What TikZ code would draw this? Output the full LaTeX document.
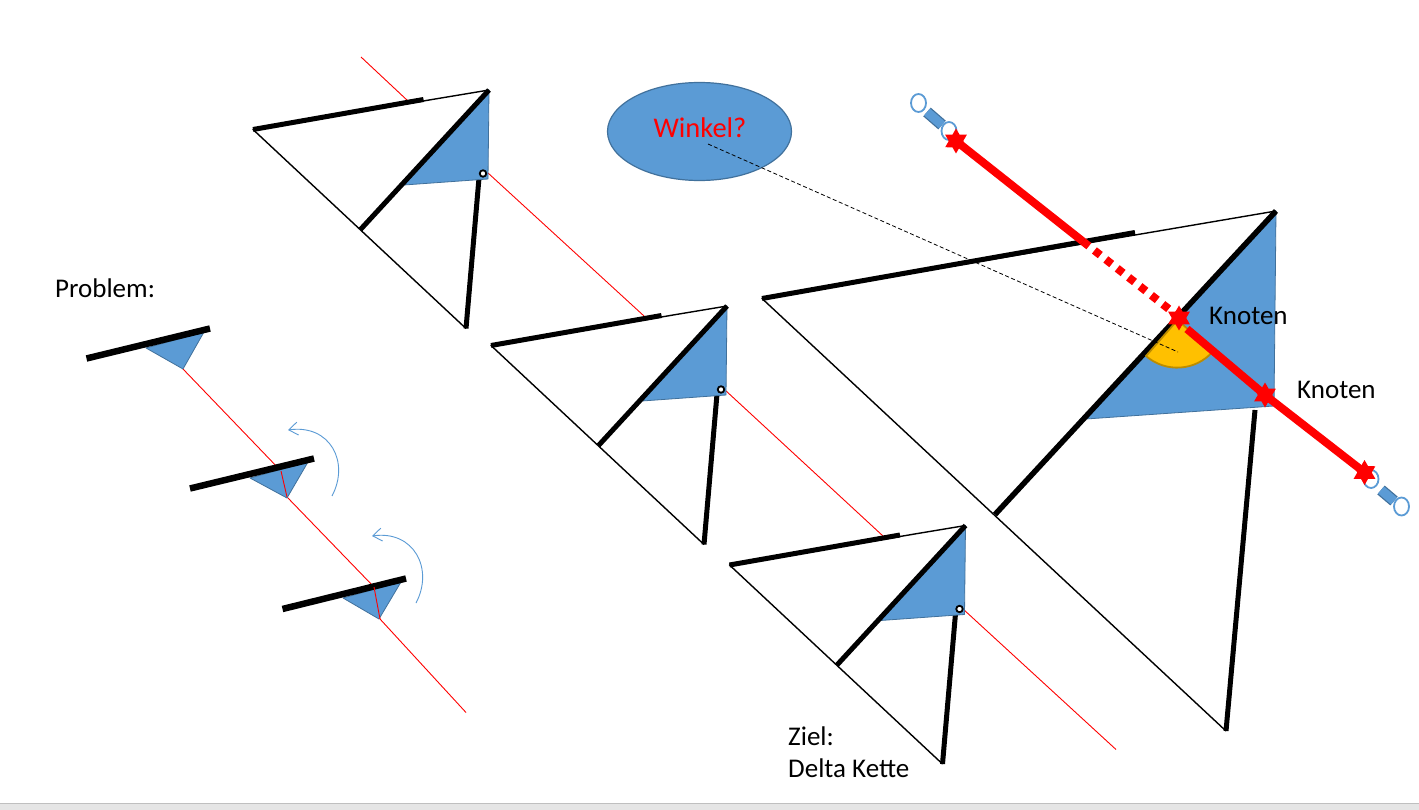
\documentclass[tikz,border=0pt]{standalone}
\usepackage{fontspec}
\setmainfont{Carlito}
\usetikzlibrary{arrows.meta,shapes.geometric}
\definecolor{fillblue}{HTML}{5B9BD5}
\definecolor{edgeblue}{HTML}{41719C}
\definecolor{ringblue}{HTML}{5B9BD5}
\definecolor{wedge}{HTML}{FFC000}
\definecolor{wedgeedge}{HTML}{BC8C00}
\tikzset{
  x=1pt,y=-1pt,
  thinbar/.style={line width=1.4pt,black},
  thickbar/.style={line width=5pt,black},
  heavybar/.style={line width=6.5pt,black},
  redthin/.style={line width=0.9pt,red},
  redfat/.style={line width=8pt,red},
  bluepatch/.style={fill=fillblue,draw=edgeblue,line width=0.8pt,line join=round},
  pivotdot/.style={circle,draw=black,fill=white,line width=1.8pt,minimum size=6.5pt,inner sep=0pt},
  hexstar/.style={star,star points=6,star point ratio=1.73,fill=red,draw=none,minimum size=25pt,inner sep=0pt},
  ring/.style={ellipse,draw=ringblue,fill=white,line width=1.8pt,minimum width=15pt,minimum height=18pt,inner sep=0pt},
  capsule/.style={line width=11.5pt,draw=edgeblue},
  capsulecore/.style={line width=9pt,draw=fillblue},
  label/.style={font=\fontsize{27}{32}\selectfont,inner sep=0pt,anchor=base west},
  swing/.style={draw=ringblue,line width=0.9pt,-{Straight Barb[length=9pt,width=13pt,line width=0.9pt]}},
  pics/deltaunit/.style={code={
    \coordinate (-a) at (253,129.5);
    \coordinate (-e) at (423.5,99.5);
    \coordinate (-t) at (489,90);
    \coordinate (-b) at (466,328.5);
    \coordinate (-m) at (360.5,229.5);
    \coordinate (-l) at (479,178);
    \draw[thinbar,line join=round] (-t) -- (-a) -- (-b);
    \draw[thickbar] (-a) -- (-e);
    \draw[thickbar] (-l) -- (-b);
    \draw[bluepatch] (489,90) -- (488,179) -- (404,185) -- cycle;
    \draw[thickbar] (-m) -- (-t);
    \node[pivotdot] (-p) at (483,173.5) {};
  }},
}
\begin{document}
\begin{tikzpicture}
\useasboundingbox (0,0) rectangle (1419,810);
\fill[white] (0,0) rectangle (1419,810);
\fill[black!10] (0,803) rectangle (1419,810);
\draw[black!25,line width=1pt] (0,803) -- (1419,803);

% red guide lines of the chain
\coordinate (r0) at (361,57);
\coordinate (r1) at (408,101);
\coordinate (r2) at (488,173);
\coordinate (r3) at (644,316);
\coordinate (r4) at (725,390);
\coordinate (r5) at (883,536);
\coordinate (r6) at (963,609);
\coordinate (r7) at (1116,749.5);
\draw[redthin] (r0) -- (r1);
\draw[redthin] (r2) -- (r3);
\draw[redthin] (r4) -- (r5);
\draw[redthin] (r6) -- (r7);

% small deltas
\pic (d1) at (0,0) {deltaunit};
\pic (d2) at (238,216) {deltaunit};
\pic (d3) at (476.5,435.5) {deltaunit};

% large delta
\coordinate (La) at (762,298.5);
\coordinate (Le) at (1135,232.5);
\coordinate (Lt) at (1276,211);
\coordinate (Lb) at (1226,731);
\coordinate (Lm) at (995,514.5);
\coordinate (Ll) at (1255,410);
\draw[thinbar,line join=round] (Lt) -- (La) -- (Lb);
\draw[line width=5pt] (La) -- (Le);
\draw[line width=5pt] (Ll) -- (Lb);
\draw[bluepatch] (1276,211) -- (1274,406) -- (1086,419) -- cycle;
\draw[line width=5.5pt] (Lm) -- (Lt);

% wedge
\coordinate (wc) at (1177.5,320);
\draw[fill=wedge,draw=wedgeedge,line width=1.8pt,line join=round]
  (wc) -- (1146,356) arc[start angle=131,end angle=41,radius=47.5] -- cycle;

% ellipse and dashed leader
\node[ellipse,fill=fillblue,draw=edgeblue,line width=1.2pt,minimum width=184pt,minimum height=98pt,inner sep=0pt] (winkel) at (699.5,131.5) {};
\node[font=\fontsize{28.5}{32}\selectfont,text=red,inner sep=0pt,anchor=base] (winkeltext) at (700,138) {Winkel?};
\coordinate (ds) at (708,144);
\coordinate (de) at (1178,352);
\draw[line width=0.8pt,dash pattern=on 4pt off 2.5pt] (ds) -- (de);

% connector ends
\coordinate (c1a) at (927,112);
\coordinate (c1b) at (942,125);
\draw[capsule] (c1a) -- (c1b);
\draw[capsulecore] (c1a) -- (c1b);
\node[ring] (r1a) at (918.5,103) {};
\node[ring] (r1b) at (949,131) {};
\coordinate (c2a) at (1381,490);
\coordinate (c2b) at (1394,501);
\draw[capsule] (c2a) -- (c2b);
\draw[capsulecore] (c2a) -- (c2b);
\node[ring] (r2a) at (1371,479) {};
\node[ring] (r2b) at (1401.5,506.5) {};

% red chain
\coordinate (jm) at (1083,241.5);
\coordinate (jn) at (1187,329);
\draw[redfat] (956,141) -- (jm);
\draw[red,line width=8pt,dash pattern=on 7.5pt off 7pt] (jm) -- (1179,317);
\draw[redfat] (jn) -- (1265,395) -- (1364,472);
\node[hexstar] (s1) at (956,141) {};
\node[hexstar] (s2) at (1179,318) {};
\node[hexstar] (s3) at (1265,395) {};
\node[hexstar] (s4) at (1364.5,472.5) {};

% problem section
\draw[redthin,line join=miter] (183,369) -- (281,471) -- (287,497) -- (374,587) -- (380,619) -- (466,712.5);
\draw[bluepatch] (146,348) -- (204,332) -- (183,369) -- cycle;
\draw[heavybar] (86.5,358.5) -- (210,328.5);
\draw[bluepatch] (250,478) -- (308,462) -- (287,498) -- cycle;
\draw[heavybar] (190,488.5) -- (314,458.5);
\draw[bluepatch] (343,598) -- (401,582) -- (379,619) -- cycle;
\draw[heavybar] (282.5,609) -- (406,578.5);
\draw[redthin,line join=miter] (281,471) -- (287,497);
\draw[redthin,line join=miter] (374,587) -- (380,619);

\coordinate (sa1) at (332,496);
\coordinate (sb1) at (288,430);
\coordinate (sa2) at (416,603);
\coordinate (sb2) at (372,536);
\draw[swing] (sa1) .. controls (350,462) and (330,424) .. (sb1);
\draw[swing] (sa2) .. controls (434,569) and (414,530) .. (sb2);

% labels
\node[label] (tproblem) at (55,298) {Problem:};
\node[label] (tziel) at (788,745) {Ziel:};
\node[label] (tdelta) at (788,777) {Delta Kette};
\node[label] (tk1) at (1209,324) {Knoten};
\node[label] (tk2) at (1297,398) {Knoten};
\end{tikzpicture}
\end{document}
